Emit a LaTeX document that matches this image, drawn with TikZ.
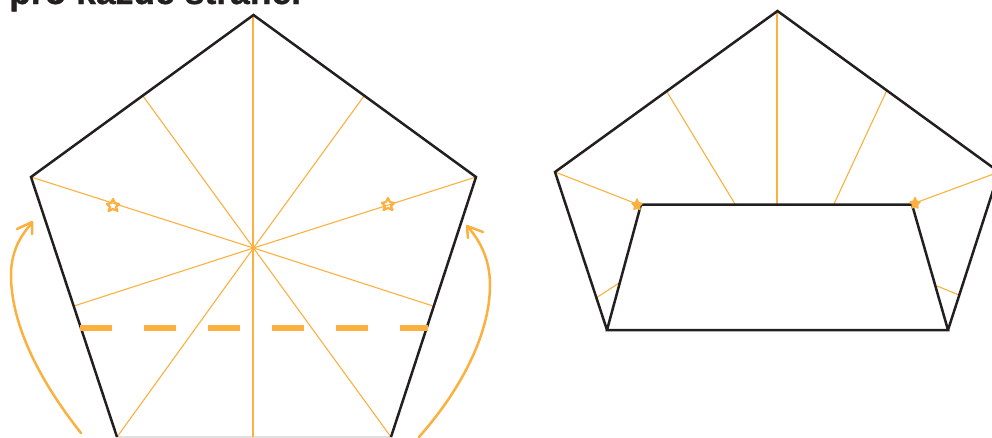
\documentclass[tikz,border=0pt]{standalone}
\usepackage{fontspec}
\setmainfont{Liberation Sans}
\newfontfamily\titlefont[BoldFeatures={FakeBold=0.8}]{Liberation Sans}
\definecolor{fold}{HTML}{FBB040}
\definecolor{edge}{HTML}{231F20}
\tikzset{
  x=1pt,y=-1pt,
  edgeline/.style={draw=edge,line width=2.5pt,line join=miter},
  creaseline/.style={draw=fold,line width=1.1pt},
  plumbline/.style={fill=fold,draw=none},
  foldline/.style={draw=fold,line width=5.5pt,dash pattern=on 32pt off 32pt},
  turnarrow/.style={draw=fold,line width=2.5pt,line cap=round,line join=round},
  starmark/.style={draw=fold,line width=2.2pt,line join=round},
  starsolid/.style={draw=fold,fill=fold,line width=1.4pt,line join=round}
}
\begin{document}
\begin{tikzpicture}
\useasboundingbox (0,0) rectangle (992,437);
\clip (0,0) rectangle (992,437);
% left pentagon
\coordinate (T) at (253.5,15);
\coordinate (R) at (476,177);
\coordinate (BR) at (391,437);
\coordinate (BL) at (117,437);
\coordinate (L) at (31,177);
\coordinate (C) at (253.5,248);
\draw[draw=black!12,line width=1.2pt] (BL) -- (BR);
\foreach \p in {R,BR,BL,L,{143,96},{364,96},{74,306},{433,306}}
  \draw[creaseline] (C) -- (\p);
\path[plumbline] (252,15) -- (254,15) -- (254,437) -- (252,437) -- cycle;
\draw[edgeline] (BL) -- (L) -- (T) -- (R) -- (BR);
\draw[foldline] (80,328) -- (428,328);
\draw[turnarrow] (81,433) .. controls (35,375) and (11,320) .. (11,275) .. controls (11,255) and (18,238) .. (32,223);
\draw[turnarrow] (17,229) -- (32,222) -- (32,234);
\draw[turnarrow] (419,437) .. controls (465,385) and (490,330) .. (490,285) .. controls (490,262) and (482,243) .. (468,227);
\draw[turnarrow] (483,232) -- (467,226) -- (468,238);
\draw[starmark] (113,199) -- (115,203) -- (119,204) -- (116,207) -- (117.5,211) -- (113,209) -- (108.5,211) -- (110,207) -- (107,204) -- (111,203) -- cycle;
\draw[starmark] (388,198) -- (390,202) -- (394,203) -- (391,206) -- (392.5,210) -- (388,208) -- (383.5,210) -- (385,206) -- (382,203) -- (386,202) -- cycle;
% right figure
\coordinate (T2) at (777.5,11);
\coordinate (L2) at (555,172);
\coordinate (R2) at (999,172);
\coordinate (IL) at (641,204.5);
\coordinate (IR) at (912,204.5);
\coordinate (BL2) at (607,330);
\coordinate (BR2) at (948,330);
\path[plumbline] (776,11) -- (778,11) -- (778,204) -- (776,204) -- cycle;
\draw[creaseline] (667,92) -- (735,204);
\draw[creaseline] (887,90) -- (834,204);
\draw[creaseline] (L2) -- (637,204);
\draw[creaseline] (R2) -- (915,203);
\draw[creaseline] (596,298) -- (619,283);
\draw[creaseline] (937,286) -- (959,295);
\draw[edgeline] (BL2) -- (L2) -- (T2) -- (R2) -- (BR2);
\draw[edgeline] (IL) -- (IR) -- (BR2) -- (BL2) -- cycle;
\draw[starsolid] (637,199) -- (638.5,202.5) -- (642,203.5) -- (639.5,206) -- (640,209.5) -- (637,208) -- (634,209.5) -- (634.5,206) -- (632,203.5) -- (635.5,202.5) -- cycle;
\draw[starsolid] (915,197.5) -- (916.5,201) -- (920,202) -- (917.5,204.5) -- (918,208) -- (915,206.5) -- (912,208) -- (912.5,204.5) -- (910,202) -- (913.5,201) -- cycle;
\node[anchor=base west,inner sep=0pt,font=\titlefont\fontsize{35.5}{36}\selectfont\bfseries,text=edge] (title) at (9,4) {pro každé straně.};
\end{tikzpicture}
\end{document}
